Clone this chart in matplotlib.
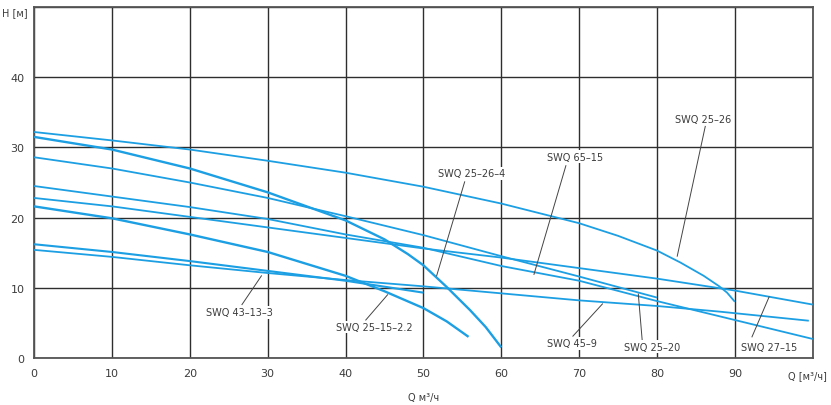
import numpy as np
import matplotlib
matplotlib.use("Agg")
import matplotlib.pyplot as plt

# pump curves Q [m3/h] -> H [m]
q_25_26 = [0, 10, 20, 30, 40, 50, 60, 70, 75, 80, 83, 86, 88, 89, 90]
h_25_26 = [32.2, 31.0, 29.7, 28.1, 26.4, 24.4, 22.0, 19.2, 17.4, 15.3, 13.6, 11.7, 10.2, 9.3, 8.0]

q_25_26_4 = [0, 10, 20, 30, 40, 45, 48, 50, 53, 56, 58, 60]
h_25_26_4 = [31.5, 29.7, 27.0, 23.6, 19.6, 16.9, 14.8, 13.2, 10.1, 6.8, 4.4, 1.5]

q_25_20 = [0, 10, 20, 30, 40, 50, 60, 70, 80]
h_25_20 = [28.6, 27.0, 25.0, 22.8, 20.2, 17.5, 14.5, 11.6, 8.6]

q_65_15 = [0, 10, 20, 30, 40, 50, 60, 70, 80, 90, 100]
h_65_15 = [24.5, 23.0, 21.5, 19.8, 17.6, 15.7, 13.1, 11.0, 8.1, 5.4, 2.7]

q_27_15 = [0, 10, 20, 30, 40, 50, 60, 70, 80, 90, 100]
h_27_15 = [22.8, 21.6, 20.1, 18.6, 17.1, 15.6, 14.3, 12.8, 11.3, 9.6, 7.6]

q_25_15_22 = [0, 10, 20, 30, 40, 45, 50, 53, 55.8]
h_25_15_22 = [21.6, 19.9, 17.6, 15.1, 11.7, 9.5, 7.1, 5.2, 3.0]

q_43_13_3 = [0, 10, 20, 30, 40, 50]
h_43_13_3 = [16.2, 15.1, 13.8, 12.4, 11.0, 9.3]

q_45_9 = [0, 10, 20, 30, 40, 50, 60, 70, 80, 88, 99.5]
h_45_9 = [15.4, 14.4, 13.2, 12.1, 11.1, 10.2, 9.2, 8.2, 7.4, 6.6, 5.3]

curves = [
    (q_25_26, h_25_26, 1.3),
    (q_25_26_4, h_25_26_4, 1.7),
    (q_25_20, h_25_20, 1.3),
    (q_65_15, h_65_15, 1.3),
    (q_27_15, h_27_15, 1.3),
    (q_25_15_22, h_25_15_22, 1.7),
    (q_43_13_3, h_43_13_3, 1.5),
    (q_45_9, h_45_9, 1.3),
]

# label text, text position, leader line start and end
labels = ["SWQ 43–13–3", "SWQ 25–15–2.2", "SWQ 25–26–4", "SWQ 65–15",
          "SWQ 25–26", "SWQ 45–9", "SWQ 25–20", "SWQ 27–15"]
label_xy = [(26.4, 6.5), (43.7, 4.4), (56.2, 26.3), (69.5, 28.7),
            (85.9, 34.1), (69.1, 2.1), (79.4, 1.6), (94.4, 1.6)]
lead_from = [(26.7, 7.6), (42.6, 5.4), (55.3, 25.1), (68.3, 27.4),
             (86.2, 33.0), (69.2, 3.1), (78.1, 2.5), (92.2, 3.0)]
lead_to = [(29.2, 11.7), (45.4, 9.0), (51.7, 11.7), (64.2, 11.9),
           (82.6, 14.5), (73.0, 7.7), (77.6, 9.1), (94.4, 8.7)]

xticks = [0, 10, 20, 30, 40, 50, 60, 70, 80, 90]
yticks = [0, 10, 20, 30, 40]

blue = "#1c9fe3"
dark = "#2e2e2e"
txtc = "#3c3c3c"

fig = plt.figure(figsize=(8.31, 4.06), dpi=100)
ax = fig.add_axes([0.041, 0.116, 0.937, 0.864])
ax.set_xlim(0, 100)
ax.set_ylim(0, 50)

ax.set_xticks(range(0, 101, 10))
ax.set_yticks(range(0, 51, 10))
ax.grid(True, color=dark, lw=1.0)
ax.set_axisbelow(True)
ax.tick_params(length=0, labelsize=8, colors=txtc, pad=7)
ax.set_xticklabels([str(t) for t in xticks] + [""])
ax.set_yticklabels([str(t) for t in yticks] + [""])
for s in ax.spines.values():
    s.set_color("#555555")
    s.set_linewidth(1.3)

# axis names sit where the last tick labels would be
ax.text(1.018, -0.035, "Q [м³/ч]", transform=ax.transAxes, fontsize=7,
        color=txtc, ha="right", va="top")
ax.text(-0.008, 0.985, "H [м]", transform=ax.transAxes, fontsize=7,
        color=txtc, ha="right", va="center")

for q, h, lw in curves:
    ax.plot(q, h, color=blue, lw=lw, solid_capstyle="butt", zorder=3)

for (x0, y0), (x1, y1) in zip(lead_from, lead_to):
    ax.plot([x0, x1], [y0, y1], color="#444444", lw=0.7, zorder=4)

for txt, (tx, ty) in zip(labels, label_xy):
    ax.text(tx, ty, txt, fontsize=7, color=txtc, ha="center", va="center",
            zorder=5, bbox=dict(boxstyle="square,pad=0.15", fc="white", ec="none"))

ax.set_xlabel("Q м³/ч", fontsize=7, color=txtc, labelpad=10)

fig.savefig("out.png", dpi=100)
